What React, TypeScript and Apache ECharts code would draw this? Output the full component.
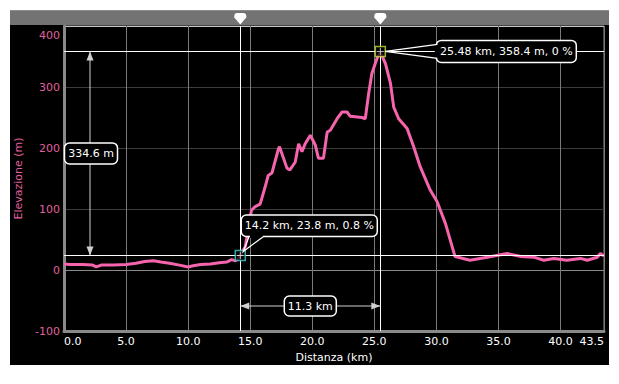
import React, { useEffect, useRef } from "react";
import * as echarts from "echarts";

const distanceKm = [0, 0.5, 1.5, 2.3, 2.6, 3.0, 4.0, 5.0, 5.8, 6.5, 7.2, 7.8, 8.5, 9.3, 10.0, 10.4, 11.0, 11.8, 12.5, 13.1, 13.5, 13.8, 14.0, 14.2, 14.6, 15.1, 15.4, 15.8, 16.2, 16.45, 16.75, 17.28, 17.36, 17.96, 18.2, 18.63, 18.9, 19.17, 19.43, 19.84, 20.24, 20.5, 20.9, 21.2, 21.45, 22.0, 22.4, 22.8, 23.06, 24.0, 24.27, 24.54, 24.8, 25.2, 25.48, 25.9, 26.3, 26.56, 26.96, 27.64, 28.17, 28.7, 29.5, 30.06, 30.73, 31.5, 32.7, 34.1, 35.7, 36.8, 37.85, 38.65, 39.46, 40.5, 41.6, 42.15, 42.96, 43.2, 43.5];
const elevationM = [10, 9, 9, 8, 5, 8, 8, 9, 11, 14, 15, 13, 11, 8, 5, 7, 9, 10, 12, 13, 17, 15, 18, 23.8, 38, 98, 104, 108, 136, 155, 159, 199, 202, 167, 164, 177, 207, 194, 207, 221, 205, 183, 183, 226, 229, 248, 259, 259, 252, 250, 248, 289, 322, 346, 358.4, 338, 306, 267, 248, 232, 202, 169, 131, 112, 76, 22, 16, 21, 27, 22, 21, 16, 19, 16, 19, 16, 21, 27, 23];

const markerKm = [14.2, 25.48];
const markerElev = [23.8, 358.4];
const markerGrade = [0.8, 0];
const markerColors = ["#3fd3d8", "#c9dc3a"];

const xMin = 0;
const xMax = 43.5;
const xStep = 5;
const yMin = -100;
const yMax = 400;
const yStep = 100;

const PINK = "#f564ad";
const PINK_TEXT = "#e0609f";
const FONT = "DejaVu Sans";

export default function App() {
  const ref = useRef<HTMLDivElement>(null);
  useEffect(() => {
    if (!ref.current) return;
    const chart = echarts.init(ref.current, undefined, { renderer: "svg" });
    const lineData = distanceKm.map((d, i) => [d, elevationM[i]]);
    const option: any = {
      animation: false,
      backgroundColor: "#000",
      textStyle: { fontFamily: FONT },
      grid: {
        left: 64,
        right: 15,
        top: 26,
        bottom: 53,
        show: true,
        borderColor: "#8a8a8a",
        borderWidth: 1,
        backgroundColor: "transparent",
      },
      xAxis: {
        type: "value",
        min: xMin,
        max: xMax,
        interval: xStep,
        name: "Distanza (km)",
        nameLocation: "middle",
        nameGap: 21,
        nameTextStyle: { color: "#fff", fontSize: 11, fontFamily: FONT },
        axisLine: { show: true, onZero: false, lineStyle: { color: "#8a8a8a", width: 3 } },
        axisTick: { show: false },
        axisLabel: {
          color: "#fff",
          fontSize: 11,
          margin: 5,
          fontFamily: FONT,
          formatter: (v: number) => v.toFixed(1),
          alignMinLabel: "left",
          alignMaxLabel: "right",
        },
        splitLine: { show: true, lineStyle: { color: "#7a7a7a", width: 1 } },
      },
      yAxis: {
        type: "value",
        min: yMin,
        max: yMax,
        interval: yStep,
        name: "Elevazione (m)",
        nameLocation: "middle",
        nameGap: 36,
        nameTextStyle: { color: PINK_TEXT, fontSize: 11, fontFamily: FONT },
        axisLine: { show: true, onZero: false, lineStyle: { color: "#8a8a8a", width: 3 } },
        axisTick: { show: false },
        axisLabel: {
          color: PINK_TEXT,
          fontSize: 11,
          margin: 4,
          fontFamily: FONT,
          formatter: (v: number) => (v === yMax ? "{top|" + v + "}" : String(v)),
          rich: { top: { color: PINK_TEXT, fontSize: 11, fontFamily: FONT, padding: [18, 0, 0, 0] } },
        },
        splitLine: {
          show: true,
          lineStyle: { color: ["#8a8a8a", "#8a8a8a", "#3c3c3c", "#3c3c3c", "#3c3c3c", "#c8c8c8"], width: 1 },
        },
      },
      series: [
        {
          type: "line",
          data: lineData,
          showSymbol: false,
          symbol: "none",
          lineStyle: { color: PINK, width: 3 },
          z: 3,
          markLine: {
            silent: true,
            symbol: ["none", "none"],
            label: { show: false },
            lineStyle: { color: "#ffffff", width: 1, type: "solid" },
            data: [
              { xAxis: markerKm[0] },
              { xAxis: markerKm[1] },
              { yAxis: markerElev[0] },
              { yAxis: markerElev[1] },
            ],
          },
        },
        {
          type: "scatter",
          z: 5,
          symbol: "rect",
          symbolSize: 10,
          silent: true,
          data: markerKm.map((k, i) => ({
            value: [k, markerElev[i]],
            itemStyle: { color: "#000", borderColor: markerColors[i], borderWidth: 1.5 },
          })),
        },
        {
          type: "scatter",
          z: 6,
          symbol: "path://M4.4,0H5.6V4.4H10V5.6H5.6V10H4.4V5.6H0V4.4H4.4Z",
          symbolSize: 7,
          silent: true,
          itemStyle: { color: "#fff" },
          data: markerKm.map((k, i) => [k, markerElev[i]]),
        },
      ],
    };
    chart.setOption(option);

    const pA = chart.convertToPixel({ gridIndex: 0 }, [markerKm[0], markerElev[0]]) as number[];
    const pB = chart.convertToPixel({ gridIndex: 0 }, [markerKm[1], markerElev[1]]) as number[];
    const origin = chart.convertToPixel({ gridIndex: 0 }, [xMin, yMin]) as number[];

    const txt = (text: string, x: number, y: number) => ({
      type: "text",
      z: 101,
      style: { text, x, y, align: "center", verticalAlign: "middle", fill: "#fff", fontSize: 11, fontFamily: FONT },
    });
    const box = (x: number, y: number, w: number, h: number) => ({
      type: "rect",
      z: 100,
      shape: { x, y, width: w, height: h, r: 5 },
      style: { fill: "#000", stroke: "#fff", lineWidth: 1.5 },
    });
    const arrowColor = "#d0d0d0";
    const g: any[] = [];
    // white page margins
    g.push({ type: "rect", z: 120, shape: { x: 0, y: 0, width: 619, height: 10 }, style: { fill: "#fff" } });
    g.push({ type: "rect", z: 120, shape: { x: 0, y: 0, width: 10, height: 384 }, style: { fill: "#fff" } });
    g.push({ type: "rect", z: 120, shape: { x: 609, y: 0, width: 10, height: 384 }, style: { fill: "#fff" } });
    g.push({ type: "rect", z: 120, shape: { x: 0, y: 365, width: 619, height: 19 }, style: { fill: "#fff" } });
    // top grey bar
    g.push({ type: "rect", z: 90, shape: { x: 10, y: 10, width: 599, height: 15 }, style: { fill: "#737373" } });
    g.push({ type: "line", z: 91, shape: { x1: 10, y1: 10.5, x2: 609, y2: 10.5 }, style: { stroke: "#8c8c8c", lineWidth: 1 } });
    [pA[0], pB[0]].forEach((x) => {
      g.push({ type: "rect", z: 92, shape: { x: x - 6, y: 13, width: 12, height: 5, r: [3, 3, 0, 0] }, style: { fill: "#fff" } });
      g.push({ type: "polygon", z: 92, shape: { points: [[x - 6, 17.5], [x + 6, 17.5], [x, 24.5]] }, style: { fill: "#fff" } });
    });

    // elevation difference arrow
    const ax = origin[0] + 26;
    g.push({ type: "line", z: 99, shape: { x1: ax, y1: pB[1], x2: ax, y2: pA[1] }, style: { stroke: arrowColor, lineWidth: 1 } });
    g.push({ type: "polygon", z: 99, shape: { points: [[ax, pB[1]], [ax - 3.5, pB[1] + 9], [ax + 3.5, pB[1] + 9]] }, style: { fill: arrowColor } });
    g.push({ type: "polygon", z: 99, shape: { points: [[ax, pA[1]], [ax - 3.5, pA[1] - 9], [ax + 3.5, pA[1] - 9]] }, style: { fill: arrowColor } });
    const midY = (pA[1] + pB[1]) / 2;
    const dElev = (markerElev[1] - markerElev[0]).toFixed(1) + " m";
    g.push(box(ax - 25.5, midY - 10.5, 53, 21));
    g.push(txt(dElev, ax + 1, midY));

    // distance arrow
    const ay = origin[1] - 25;
    g.push({ type: "line", z: 99, shape: { x1: pA[0], y1: ay, x2: pB[0], y2: ay }, style: { stroke: arrowColor, lineWidth: 1 } });
    g.push({ type: "polygon", z: 99, shape: { points: [[pA[0], ay], [pA[0] + 9, ay - 3.5], [pA[0] + 9, ay + 3.5]] }, style: { fill: arrowColor } });
    g.push({ type: "polygon", z: 99, shape: { points: [[pB[0], ay], [pB[0] - 9, ay - 3.5], [pB[0] - 9, ay + 3.5]] }, style: { fill: arrowColor } });
    const midX = (pA[0] + pB[0]) / 2;
    const dDist = (markerKm[1] - markerKm[0]).toFixed(1) + " km";
    g.push(box(midX - 26, ay - 10, 52, 20));
    g.push(txt(dDist, midX, ay));

    // callout B (peak)
    const lB = pB[0] + 56;
    g.push(box(lB, pB[1] - 11, 140, 22));
    g.push({ type: "rect", z: 102, shape: { x: lB - 1.5, y: pB[1] - 6.5, width: 3, height: 13 }, style: { fill: "#000" } });
    g.push({ type: "polyline", z: 102, shape: { points: [[lB + 1, pB[1] - 7], [pB[0] + 5, pB[1]], [lB + 1, pB[1] + 7]] }, style: { stroke: "#fff", lineWidth: 1.2, fill: null } });
    g.push(txt(markerKm[1].toFixed(2) + " km, " + markerElev[1].toFixed(1) + " m, " + markerGrade[1] + " %", lB + 70, pB[1]));

    // callout A
    const lA = pA[0] + 1;
    const bA = pA[1] - 19;
    g.push(box(lA, bA - 21.5, 136, 21.5));
    g.push({ type: "rect", z: 102, shape: { x: pA[0] + 9.5, y: bA - 1.5, width: 14, height: 3 }, style: { fill: "#000" } });
    g.push({ type: "polyline", z: 102, shape: { points: [[pA[0] + 9, bA - 0.5], [pA[0] + 3, pA[1] - 4], [pA[0] + 24, bA - 0.5]] }, style: { stroke: "#fff", lineWidth: 1.2, fill: null } });
    g.push(txt(markerKm[0].toFixed(1) + " km, " + markerElev[0].toFixed(1) + " m, " + markerGrade[0] + " %", lA + 68, bA - 10.75));

    chart.setOption({ graphic: g });
    return () => chart.dispose();
  }, []);
  return <div ref={ref} style={{ position: "fixed", left: 0, top: 0, width: 619, height: 384 }} />;
}
